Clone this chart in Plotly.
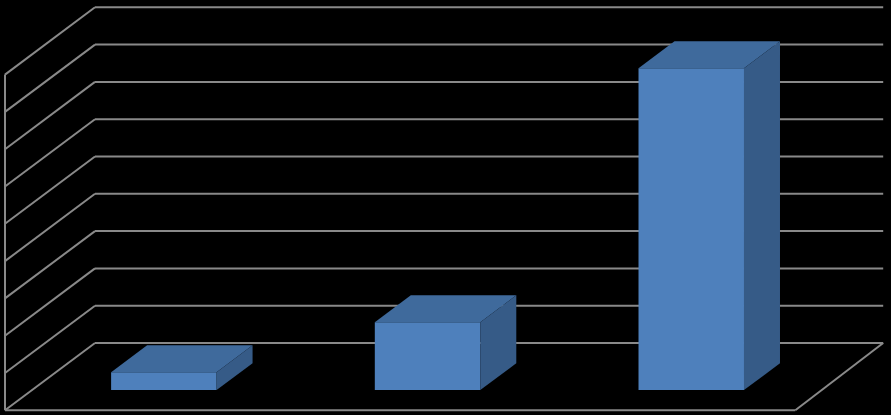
import plotly.graph_objects as go

categories = [0, 1, 2]
values = [0.48, 1.82, 8.63]
grid_levels = list(range(0, 10))

W, H = 891, 415
LEFT_PX, CAT_PX, FLOOR_PX, UNIT_PX = 5.0, 263.7, 410.3, 37.3
DX = 90 / CAT_PX      # wall depth in category units
DY = 67.3 / UNIT_PX   # wall depth in value units
BAR_W, D0, D1 = 0.4, 0.3, 0.7
FRONT_END, BACK_END = 2.997, 2.989
GRID = "#898989"
FRONT, TOP, SIDE = "#4E80BC", "#3F6A9C", "#365B87"


def project(x, y, depth):
    return x + depth * DX, y + depth * DY


def poly(corners, colour):
    pts = [project(*c) for c in corners]
    xs = [p[0] for p in pts] + [pts[0][0]]
    ys = [p[1] for p in pts] + [pts[0][1]]
    return go.Scatter(x=xs, y=ys, mode="lines", fill="toself", fillcolor=colour,
                      line=dict(width=0, color=colour), hoverinfo="skip", showlegend=False)


def seg(a, b):
    (x0, y0), (x1, y1) = project(*a), project(*b)
    return dict(type="line", layer="below", xref="x", yref="y", x0=x0, y0=y0, x1=x1, y1=y1,
                line=dict(color=GRID, width=2))


shapes = []
for g in grid_levels:
    shapes.append(seg((0, g, 0), (0, g, 1)))          # side wall
    shapes.append(seg((0, g, 1), (BACK_END, g, 1)))   # back wall
top_level = grid_levels[-1]
shapes.append(seg((0, 0, 0), (0, top_level, 0)))      # left edge
shapes.append(seg((0, 0, 0), (FRONT_END, 0, 0)))      # floor front
shapes.append(seg((FRONT_END, 0, 0), (BACK_END, 0, 1)))  # floor right

fig = go.Figure()

# front faces as real bars
fig.add_trace(go.Bar(
    x=[c + 0.5 + D0 * DX for c in categories],
    y=values,
    base=[D0 * DY] * len(values),
    width=BAR_W,
    marker=dict(color=FRONT, line=dict(width=0)),
    hoverinfo="skip", showlegend=False,
))

for c, v in zip(categories, values):
    l, r = c + 0.5 - BAR_W / 2, c + 0.5 + BAR_W / 2
    fig.add_trace(poly([(l, v, D0), (r, v, D0), (r, v, D1), (l, v, D1)], TOP))
    fig.add_trace(poly([(r, 0, D0), (r, v, D0), (r, v, D1), (r, 0, D1)], SIDE))

fig.update_layout(
    width=W, height=H,
    margin=dict(l=0, r=0, t=0, b=0),
    autosize=False,
    paper_bgcolor="#000000", plot_bgcolor="#000000",
    shapes=shapes,
    xaxis=dict(range=[-LEFT_PX / CAT_PX, (W - LEFT_PX) / CAT_PX], visible=False, fixedrange=True),
    yaxis=dict(range=[(FLOOR_PX - H) / UNIT_PX, FLOOR_PX / UNIT_PX], visible=False, fixedrange=True),
)
fig.write_html(
    "out.html",
    config=dict(displayModeBar=False),
    post_script="document.documentElement.style.background='#000';"
                "document.body.style.margin='0';document.body.style.background='#000';"
                "document.body.style.overflow='hidden';",
)
